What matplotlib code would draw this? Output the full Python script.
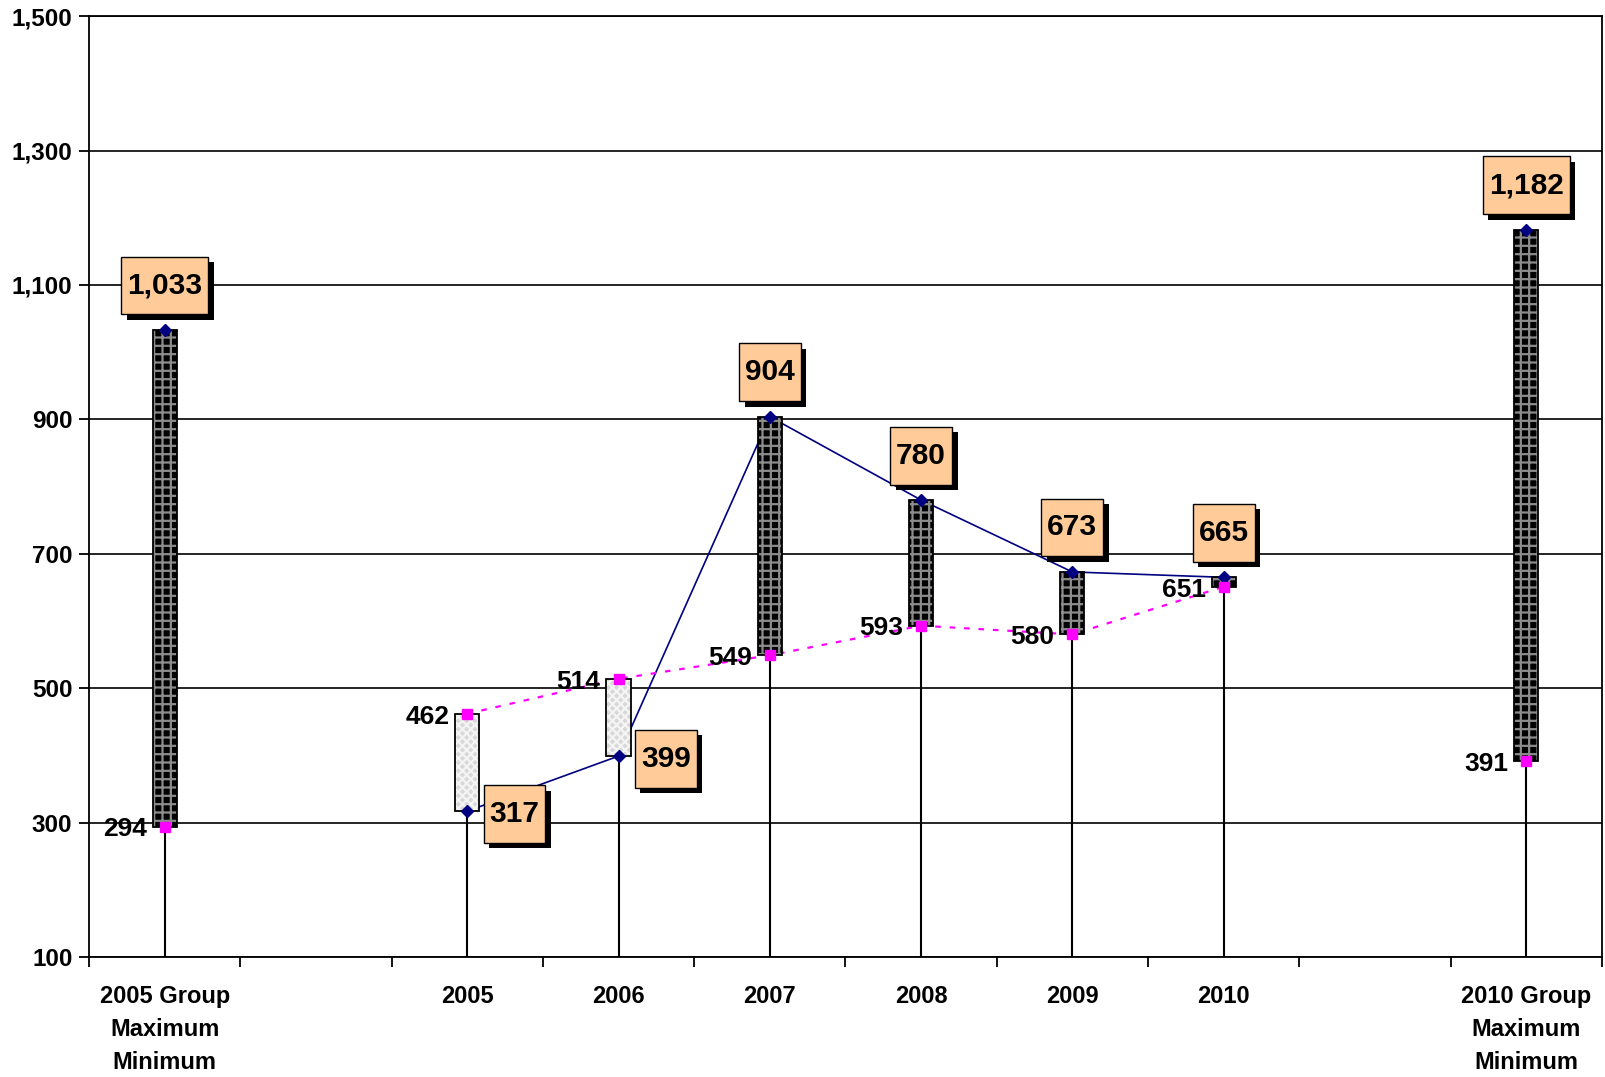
import numpy as np
import matplotlib
matplotlib.use("Agg")
import matplotlib.pyplot as plt
from matplotlib.ticker import FuncFormatter
from matplotlib.path import Path
import matplotlib.patheffects as pe

plt.rcParams['font.family'] = ['Liberation Sans', 'DejaVu Sans']
plt.rcParams['font.weight'] = 'bold'
plt.rcParams['hatch.linewidth'] = 1.6

# categories (10 slots, two empty spacers)
categories = ["2005 Group\nMaximum\nMinimum", "", "2005", "2006", "2007",
              "2008", "2009", "2010", "", "2010 Group\nMaximum\nMinimum"]
# slots holding data
slots = [0, 2, 3, 4, 5, 6, 7, 9]
blue_vals = [1033, 317, 399, 904, 780, 673, 665, 1182]
pink_vals = [294, 462, 514, 549, 593, 580, 651, 391]
# which points are joined by the lines (yearly ones only)
yearly = [1, 2, 3, 4, 5, 6]
# label position of the boxed values: 'up' or 'right'
box_pos = ['up', 'right', 'right', 'up', 'up', 'up', 'up', 'up']

y_ticks = [100, 300, 500, 700, 900, 1100, 1300, 1500]


class PadBox:
    # square box with separate x / y padding (fractions of font size)
    def __init__(self, px, py):
        self.px = px
        self.py = py

    def __call__(self, x0, y0, width, height, mutation_size):
        px = self.px * mutation_size
        py = self.py * mutation_size
        x0, y0 = x0 - px, y0 - py
        x1, y1 = x0 + width + 2 * px, y0 + height + 2 * py
        return Path([(x0, y0), (x1, y0), (x1, y1), (x0, y1), (x0, y0)],
                    closed=True)


fig = plt.figure(figsize=(16.05, 10.77), dpi=100)
ax = fig.add_axes([0.0555, 0.1114, 0.9425, 0.8736])

ax.set_xlim(-0.5, len(categories) - 0.5)
ax.set_ylim(100, 1500)
ax.set_yticks(y_ticks)
ax.yaxis.set_major_formatter(FuncFormatter(lambda v, p: f"{int(v):,}"))
ax.yaxis.grid(True, color='black', lw=1.2, zorder=0.5)
ax.set_axisbelow(True)

ax.set_xticks(np.arange(-0.5, len(categories), 1.0))
ax.set_xticklabels([])
ax.set_xticks(np.arange(len(categories)), minor=True)
ax.set_xticklabels(categories, minor=True, fontsize=17, fontweight='bold',
                   linespacing=1.55)
ax.tick_params(axis='x', which='major', length=7, width=1.3, direction='out')
ax.tick_params(axis='x', which='minor', length=0, pad=20)
ax.tick_params(axis='y', length=7, width=1.3, direction='out', pad=5,
               labelsize=17.5)
for lab in ax.get_yticklabels():
    lab.set_fontweight('bold')
for s in ax.spines.values():
    s.set_color('black')
    s.set_linewidth(1.3)

bw = 0.16
xs = np.array(slots)
bv = np.array(blue_vals)
pv = np.array(pink_vals)

# drop lines
ax.vlines(xs, 100, np.maximum(bv, pv), color='black', lw=1.5, zorder=1)

# lines between yearly points
ax.plot(xs[yearly], bv[yearly], color='#000080', lw=1.2, zorder=2)
ax.plot(xs[yearly], pv[yearly], color='#ff00ff', lw=1.6,
        linestyle=(0, (2.5, 4)), zorder=2)

# up/down bars
for x, b, p in zip(xs, bv, pv):
    lo, hi = min(b, p), max(b, p)
    if b > p:
        ax.bar(x, hi - lo, bw, bottom=lo, color='black', edgecolor='#8c8c8c',
               hatch='++', lw=0, zorder=3)
    else:
        ax.bar(x, hi - lo, bw, bottom=lo, color='#d8d8d8', edgecolor='#f4f4f4',
               hatch='xxxx', lw=0, zorder=3)
    ax.bar(x, hi - lo, bw, bottom=lo, fill=False, edgecolor='black', lw=1.3,
           zorder=3.1)

# markers
ax.plot(xs, bv, 'D', color='#000080', ms=6, zorder=4, ls='none')
ax.plot(xs, pv, 's', color='#ff00ff', ms=7, zorder=4, ls='none')

# pink labels
for x, p in zip(xs, pv):
    ax.annotate(f"{p:,}", (x, p), xytext=(-13, -2), textcoords='offset points',
                ha='right', va='center', fontsize=19, fontweight='bold',
                zorder=5)

# boxed blue labels with shadow
for x, b, pos in zip(xs, bv, box_pos):
    off = (0, 32) if pos == 'up' else (34, -2)
    t = ax.annotate(f"{b:,}", (x, b), xytext=off, textcoords='offset points',
                    ha='center', va='center', fontsize=21.5, fontweight='bold',
                    bbox=dict(boxstyle=PadBox(0.2, 0.5), fc='#ffcc99',
                              ec='black', lw=1), zorder=6)
    t.get_bbox_patch().set_path_effects([
        pe.SimplePatchShadow(offset=(4, -4), shadow_rgbFace='black', alpha=1),
        pe.Normal()])

fig.savefig("out.png", dpi=100)
